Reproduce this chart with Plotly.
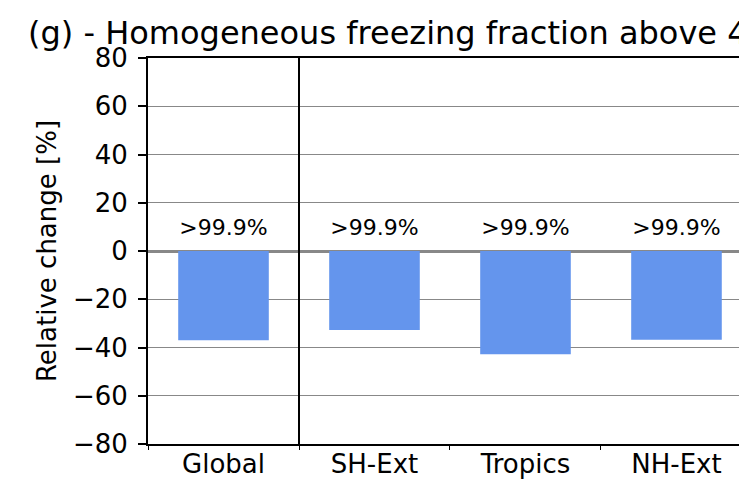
import plotly.graph_objects as go

regions = ["Global", "SH-Ext", "Tropics", "NH-Ext"]
rel_change = [-37.0, -32.7, -42.8, -36.8]
confidence = [">99.9%", ">99.9%", ">99.9%", ">99.9%"]
label_y = [9, 9, 9, 9]
y_ticks = [-80, -60, -40, -20, 0, 20, 40, 60, 80]

FONT = "DejaVu Sans, sans-serif"

fig = go.Figure()
fig.add_trace(go.Bar(
    x=regions, y=rel_change,
    width=0.6,
    marker=dict(color="#6495ED", line=dict(width=0)),
    showlegend=False,
))
fig.add_trace(go.Scatter(
    x=regions, y=label_y, mode="text", text=confidence,
    textfont=dict(size=22, color="black", family=FONT),
    showlegend=False, hoverinfo="skip",
))

# separator between global and regional bars
fig.add_vline(x=0.5, line_color="black", line_width=2)

# page body adds an 8px offset, so the margins are shifted by that
fig.update_layout(
    width=739, height=479,
    margin=dict(l=140, r=0, t=50, b=43),
    paper_bgcolor="white", plot_bgcolor="white",
    font=dict(family=FONT, size=26, color="black"),
    annotations=[dict(
        text="(g) - Homogeneous freezing fraction above 400 hPa",
        xref="paper", yref="paper", x=-0.204, y=1.065,
        xanchor="left", yanchor="middle", showarrow=False,
        font=dict(size=32, family=FONT, color="black"),
    )],
)
fig.update_xaxes(
    type="category", range=[-0.5, 3.467], automargin=False,
    tickson="boundaries", ticks="outside", ticklen=4, tickwidth=1,
    tickcolor="black", showgrid=False, ticklabelstandoff=-4,
    showline=True, linecolor="black", linewidth=2, mirror=True,
    tickfont=dict(size=26),
)
fig.update_yaxes(
    range=[-80, 80], tickvals=y_ticks, automargin=False,
    ticks="outside", ticklen=8, tickwidth=2, tickcolor="black",
    ticklabelstandoff=5,
    showline=True, linecolor="black", linewidth=2,
    showgrid=True, gridcolor="#888888", gridwidth=1,
    zeroline=True, zerolinecolor="#888888", zerolinewidth=3,
    title=dict(text="Relative change [%]", font=dict(size=26), standoff=9),
    tickfont=dict(size=26),
)

fig.write_html("out.html")
